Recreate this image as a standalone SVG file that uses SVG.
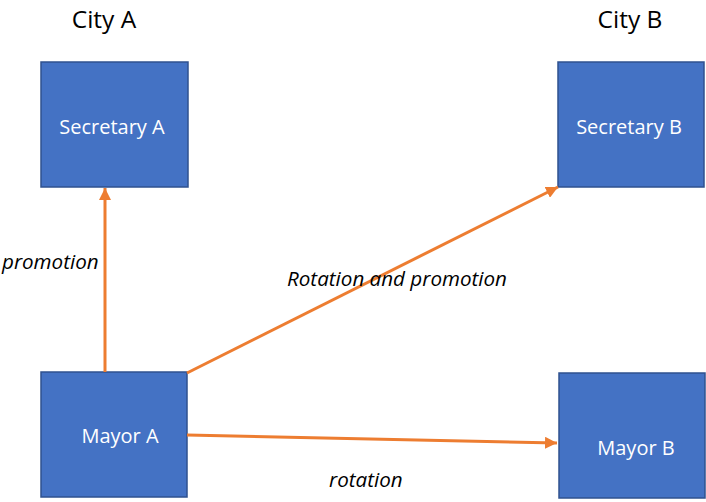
<svg xmlns="http://www.w3.org/2000/svg" width="706" height="502" viewBox="0 0 706 502">
<defs>
<style>
.box{fill:#4472C4;stroke:#2F528F;stroke-width:1.5}
.lbl{font-family:"Open Sans","Liberation Sans",sans-serif;font-size:20px;fill:#fff;text-anchor:middle}
.city{font-family:"Open Sans","Liberation Sans",sans-serif;font-size:24.5px;fill:#000;text-anchor:middle}
.edge{font-family:"Open Sans","Liberation Sans",sans-serif;font-size:20.6px;font-style:italic;fill:#000}
.con{stroke:#ED7D31;stroke-width:3;fill:none}
</style>
<marker id="ah" viewBox="0 0 10 10" refX="10" refY="5" markerWidth="4" markerHeight="4" orient="auto" markerUnits="strokeWidth">
<path d="M0,0 L10,5 L0,10 z" fill="#ED7D31"/>
</marker>
</defs>
<rect width="706" height="502" fill="#fff"/>
<text class="city" x="104" y="28">City A</text>
<text class="city" x="630" y="28">City B</text>
<g id="secretaryA"><rect class="box" x="41" y="62" width="147" height="125"/><text class="lbl" x="112" y="134">Secretary A</text></g>
<g id="secretaryB"><rect class="box" x="558" y="62" width="146" height="125"/><text class="lbl" x="629" y="134">Secretary B</text></g>
<g id="mayorA"><rect class="box" x="41" y="372" width="146" height="125"/><text class="lbl" x="120" y="443">Mayor A</text></g>
<g id="mayorB"><rect class="box" x="559" y="373" width="146" height="125"/><text class="lbl" x="636" y="455">Mayor B</text></g>
<g id="connectors">
<line class="con" x1="105" y1="372" x2="105" y2="188" marker-end="url(#ah)"/>
<line class="con" x1="187" y1="373" x2="558" y2="187" marker-end="url(#ah)"/>
<line class="con" x1="187" y1="435" x2="557" y2="443" marker-end="url(#ah)"/>
<text class="edge" x="2" y="269">promotion</text>
<text class="edge" x="287" y="286">Rotation and promotion</text>
<text class="edge" x="329" y="487">rotation</text>
</g>
</svg>
